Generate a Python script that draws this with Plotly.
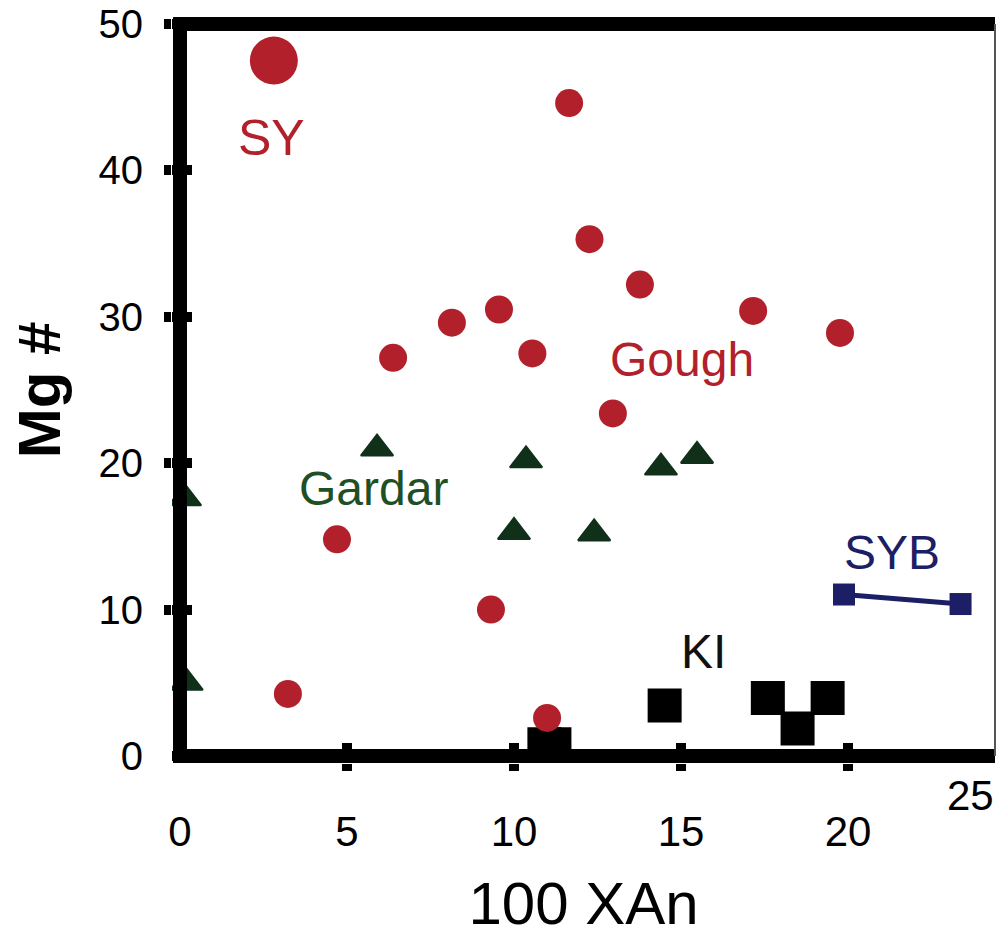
import plotly.graph_objects as go

# ---------------- data ----------------
gough_x = [11.65, 12.26, 13.77, 9.55, 10.55, 17.16, 19.76, 8.14, 6.38, 12.96, 4.70, 9.31, 3.23, 10.99]
gough_y = [44.6, 35.3, 32.2, 30.5, 27.5, 30.4, 28.9, 29.6, 27.2, 23.4, 14.8, 10.0, 4.24, 2.6]

sy_x = [2.81]
sy_y = [47.5]

gardar_x = [5.90, 10.36, 14.40, 15.48, 10.00, 12.40, 0.15, 0.20]
gardar_y = [21.0, 20.2, 19.7, 20.5, 15.3, 15.2, 17.6, 5.0]

ki_x = [10.91, 11.21, 14.51, 17.60, 18.49, 19.39]
ki_y = [0.8, 0.8, 3.45, 3.96, 1.88, 3.96]

syb_x = [19.88, 23.37]
syb_y = [11.03, 10.38]

x_ticks = [0, 5, 10, 15, 20]
x_tick_text = ["0", "5", "10", "15", "20"]
x_ticks_outer = [5, 10, 15, 20]
y_ticks = [0, 10, 20, 30, 40, 50]
y_tick_text = ["0", "10", "20", "30", "40", "50"]
y_ticks_outer = [10, 20, 30, 40, 50]
extra_tick_text = "25"

label_text = ["SY", "Gough", "Gardar", "KI", "SYB"]
label_x = [2.75, 15.03, 5.78, 15.66, 21.32]
label_y = [42.2, 27.05, 18.3, 7.17, 13.87]

# ---------------- styling ----------------
FONT = "Liberation Sans, Arial, Helvetica, sans-serif"
RED = "#b2212b"
GREEN_MK = "#10301a"
GREEN_TX = "#1f4f25"
NAVY = "#1c1f66"
label_color = [RED, RED, GREEN_TX, "#111111", NAVY]
label_size = [50, 48, 48, 48, 48]

X_RANGE = [-0.2395, 24.401]
Y_RANGE = [-0.478, 50.478]

fig = go.Figure()

fig.add_trace(go.Scatter(
    x=ki_x, y=ki_y, mode="markers", name="KI",
    marker=dict(symbol="square", size=34, color="black", line=dict(width=0)),
    cliponaxis=True))

fig.add_trace(go.Scatter(
    x=gardar_x, y=gardar_y, mode="markers", name="Gardar",
    marker=dict(symbol="triangle-up", size=28, color=GREEN_MK,
                line=dict(width=2, color=GREEN_MK)),
    cliponaxis=True))

fig.add_trace(go.Scatter(
    x=gough_x, y=gough_y, mode="markers", name="Gough",
    marker=dict(symbol="circle", size=28, color=RED, line=dict(width=0)),
    cliponaxis=True))

fig.add_trace(go.Scatter(
    x=sy_x, y=sy_y, mode="markers", name="SY",
    marker=dict(symbol="circle", size=48, color=RED, line=dict(width=0)),
    cliponaxis=True))

fig.add_trace(go.Scatter(
    x=syb_x, y=syb_y, mode="lines+markers", name="SYB",
    line=dict(color=NAVY, width=5),
    marker=dict(symbol="square", size=22, color=NAVY, line=dict(width=0)),
    cliponaxis=True))

# invisible trace on overlay axes (for the outer half of the tick marks)
fig.add_trace(go.Scatter(x=[], y=[], xaxis="x2", yaxis="y2", showlegend=False))

# frame (thick left, top, bottom; right side is cut off in the original)
fig.add_shape(type="rect", xref="x", yref="y", x0=0, x1=40, y0=0, y1=50,
              line=dict(color="black", width=14), layer="above")
fig.add_shape(type="line", xref="paper", yref="y", x0=1, x1=1, y0=0, y1=50,
              line=dict(color="#555555", width=2), layer="above")

for t, x, y, c, s in zip(label_text, label_x, label_y, label_color, label_size):
    fig.add_annotation(x=x, y=y, xref="x", yref="y", text=t, showarrow=False,
                       font=dict(family=FONT, size=s, color=c),
                       xanchor="center", yanchor="middle")

# the stray "25" tick label of the original (sits outside the plotting area)
fig.add_annotation(x=0.9708, y=-0.0442, xref="paper", yref="paper", text=extra_tick_text,
                   showarrow=False, font=dict(family=FONT, size=42, color="black"),
                   xanchor="center", yanchor="middle")

fig.update_layout(
    width=996, height=937,
    margin=dict(l=172, r=1, t=17, b=174),
    paper_bgcolor="white", plot_bgcolor="white",
    showlegend=False,
    font=dict(family=FONT, color="black"),
    xaxis=dict(range=X_RANGE, tickmode="array", tickvals=x_ticks, ticktext=x_tick_text,
               ticks="inside", ticklen=20, tickwidth=10, tickcolor="black",
               showgrid=False, zeroline=False, showline=False,
               tickfont=dict(family=FONT, size=42, color="black"),
               ticklabelstandoff=40,
               title=dict(text="100 XAn", font=dict(family=FONT, size=60, color="black"),
                          standoff=30)),
    yaxis=dict(range=Y_RANGE, tickmode="array", tickvals=y_ticks, ticktext=y_tick_text,
               ticks="inside", ticklen=20, tickwidth=10, tickcolor="black",
               showgrid=False, zeroline=False, showline=False,
               tickfont=dict(family=FONT, size=40, color="black"),
               ticklabelstandoff=28,
               title=dict(text="<b>Mg #</b>", font=dict(family=FONT, size=60, color="black"),
                          standoff=18)),
    xaxis2=dict(range=X_RANGE, overlaying="x", anchor="y2", side="bottom",
                tickmode="array", tickvals=x_ticks_outer, showticklabels=False,
                ticks="outside", ticklen=7, tickwidth=10, tickcolor="black",
                showgrid=False, zeroline=False, showline=False),
    yaxis2=dict(range=Y_RANGE, overlaying="y", anchor="x2", side="left",
                tickmode="array", tickvals=y_ticks_outer, showticklabels=False,
                ticks="outside", ticklen=7, tickwidth=10, tickcolor="black",
                showgrid=False, zeroline=False, showline=False),
)

fig.write_html("out.html")
